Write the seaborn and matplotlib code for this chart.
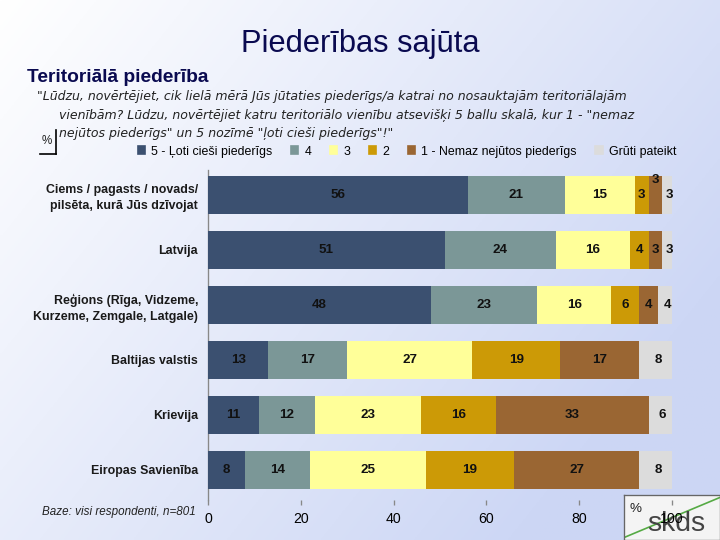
import numpy as np
import pandas as pd
import matplotlib
matplotlib.use("Agg")
import matplotlib.pyplot as plt
import matplotlib.patches as mpatches
import seaborn as sns

plt.rcParams["font.family"] = ["Liberation Sans", "DejaVu Sans"]

# ---------------------------------------------------------------------------
# Data (percent)
# ---------------------------------------------------------------------------
CATEGORIES = [
    "Ciems / pagasts / novads/\npilsēta, kurā Jūs dzīvojat",
    "Latvija",
    "Reģions (Rīga, Vidzeme,\nKurzeme, Zemgale, Latgale)",
    "Baltijas valstis",
    "Krievija",
    "Eiropas Savienība",
]
SERIES = ["5 - Ļoti cieši piederīgs", "4", "3", "2", "1 - Nemaz nejūtos piederīgs", "Grūti pateikt"]
V5 = [56, 51, 48, 13, 11, 8]
V4 = [21, 24, 23, 17, 12, 14]
V3 = [15, 16, 16, 27, 23, 25]
V2 = [3, 4, 6, 19, 16, 19]
V1 = [3, 3, 4, 17, 33, 27]
VNA = [3, 3, 4, 8, 6, 8]
XTICKS = [0, 20, 40, 60, 80, 100]

COLORS = ["#3B5070", "#7B9797", "#FFFF99", "#CC9A06", "#9A6633", "#DCDCDC"]

values = np.array([V5, V4, V3, V2, V1, VNA])
cum = values.cumsum(axis=0)

fig = plt.figure(figsize=(6, 4.5), dpi=120)

# background gradient
bg = fig.add_axes([0, 0, 1, 1], zorder=-10)
xx, yy = np.meshgrid(np.linspace(0, 1, 200), np.linspace(0, 1, 200))
t = np.clip(0.75 * xx + 0.45 * yy, 0, 1)
top = np.array([1.0, 1.0, 1.0])
bot = np.array([0.80, 0.84, 0.96])
img = top[None, None, :] * (1 - t[..., None]) + bot[None, None, :] * t[..., None]
bg.imshow(img, aspect="auto", extent=[0, 1, 0, 1], origin="upper")
bg.axis("off")

# logo (sits under the axis labels, as in the original slide)
logo = fig.add_axes([0.866, 0.0, 0.134, 0.083], zorder=-5)
logo.set_facecolor("#F4F4F4")
logo.set_xticks([])
logo.set_yticks([])
for s in logo.spines.values():
    s.set_color("#666666")
logo.plot([0, 1], [0.05, 0.95], color="#55AA44", lw=1)
logo.text(0.55, 0.36, "skds", ha="center", va="center", fontsize=17,
          color="#444444", transform=logo.transAxes)
logo.set_xlim(0, 1)
logo.set_ylim(0, 1)

ax = fig.add_axes([0.289, 0.074, 0.644, 0.611])
ax.set_facecolor("none")

# stacked bars: draw cumulative totals from the back to the front
for k in range(len(SERIES) - 1, -1, -1):
    df = pd.DataFrame({"cat": CATEGORIES, "val": cum[k]})
    sns.barplot(data=df, x="val", y="cat", color=COLORS[k], orient="h",
                width=0.7, saturation=1, ax=ax, zorder=2 + (len(SERIES) - k))

for i in range(len(CATEGORIES)):
    left = 0
    for k in range(len(SERIES)):
        v = values[k, i]
        y = i
        if i == 0 and k == 4:
            y = i - 0.27
        ax.text(left + v / 2, y, str(v), ha="center", va="center",
                fontsize=8, fontweight="bold", color="#111111", zorder=20)
        left += v

ax.set_xlim(0, 100)
ax.set_ylim(len(CATEGORIES) - 0.45, -0.45)
ax.set_xticks(XTICKS)
ax.set_xticklabels([str(x) for x in XTICKS], fontsize=8.5)
ax.set_xlabel("")
ax.set_ylabel("")
ax.tick_params(axis="y", length=0, labelsize=7.4, pad=6)
for lab in ax.get_yticklabels():
    lab.set_fontweight("bold")
    lab.set_color("#1A1A1A")
    lab.set_linespacing(1.4)
ax.tick_params(axis="x", length=3, color="#888888", pad=4)
for s in ["top", "right", "bottom"]:
    ax.spines[s].set_visible(False)
ax.spines["left"].set_color("#888888")
ax.spines["left"].set_linewidth(0.8)

# titles
fig.text(0.5, 0.918, "Piederības sajūta", ha="center", va="center",
         fontsize=18.5, color="#0A0A50")
fig.text(0.037, 0.856, "Teritoriālā piederība", ha="left", va="center",
         fontsize=11.5, fontweight="bold", color="#0A0A50")
fig.text(0.052, 0.822,
         "\"Lūdzu, novērtējiet, cik lielā mērā Jūs jūtaties piederīgs/a katrai no nosauktajām teritoriālajām",
         ha="left", va="center", fontsize=7.5, style="italic", color="#222222",
         family="DejaVu Sans")
fig.text(0.082, 0.787,
         "vienībām? Lūdzu, novērtējiet katru teritoriālo vienību atsevišķi 5 ballu skalā, kur 1 - \"nemaz",
         ha="left", va="center", fontsize=7.5, style="italic", color="#222222",
         family="DejaVu Sans")
fig.text(0.082, 0.752,
         "nejūtos piederīgs\" un 5 nozīmē \"ļoti cieši piederīgs\"!\"",
         ha="left", va="center", fontsize=7.5, style="italic", color="#222222",
         family="DejaVu Sans")

# % marker
fig.text(0.065, 0.738, "%", ha="center", va="center", fontsize=7, color="#222222")
fig.add_artist(plt.Line2D([0.055, 0.078], [0.715, 0.715], color="black", lw=1))
fig.add_artist(plt.Line2D([0.078, 0.078], [0.715, 0.76], color="black", lw=1))

# legend
handles = [mpatches.Patch(color=c, label=s) for c, s in zip(COLORS, SERIES)]
fig.legend(handles=handles, loc="center", bbox_to_anchor=(0.565, 0.719), ncol=6,
           frameon=False, fontsize=7.4, handlelength=0.6, handleheight=0.6,
           handletextpad=0.5, columnspacing=1.5)

# footnote
fig.text(0.058, 0.052, "Baze: visi respondenti, n=801", ha="left", va="center",
         fontsize=7, style="italic", color="#222222")
fig.text(0.883, 0.058, "%", ha="center", va="center", fontsize=8, color="#222222")

fig.savefig("out.png", dpi=120)
